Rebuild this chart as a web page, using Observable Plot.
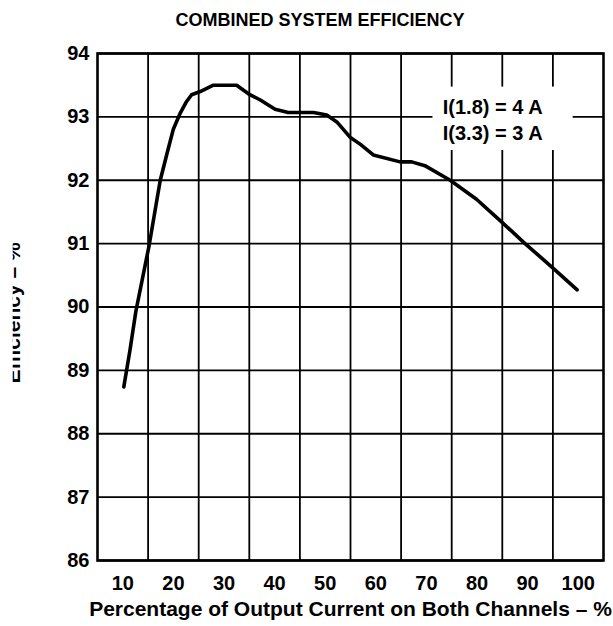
<!DOCTYPE html>
<html><head><meta charset="utf-8">
<script src="https://cdn.jsdelivr.net/npm/d3@7"></script>
<script src="https://cdn.jsdelivr.net/npm/@observablehq/plot@0.6"></script>
<style>
html,body{margin:0;padding:0;background:#fff;}
body{width:613px;height:626px;overflow:hidden;font-family:"Liberation Sans",Arial,Helvetica,sans-serif;}
#title{box-sizing:border-box;width:613px;height:40px;line-height:40px;text-align:center;padding-left:27px;font-weight:bold;font-size:18px;color:#000;}
</style></head><body>
<div id="title">COMBINED SYSTEM EFFICIENCY</div>
<div id="chart"></div>
<script>
// Percentage of output current on both channels (%)
const pct = [10.2, 11.4, 12.6, 15.2, 17.4, 18.7, 20.0, 21.3, 22.5, 23.6, 25.3, 27.9, 32.5, 35.1, 37.1, 40.1, 42.7, 47.7, 50.3, 52.3, 54.9, 56.9, 59.5, 64.8, 67.1, 69.7, 74.7, 79.9, 84.9, 89.5, 94.8, 99.8];
// Efficiency (%)
const eff = [88.74, 89.31, 89.94, 90.97, 92.00, 92.41, 92.81, 93.05, 93.23, 93.35, 93.40, 93.50, 93.50, 93.35, 93.27, 93.12, 93.07, 93.07, 93.03, 92.92, 92.68, 92.57, 92.40, 92.29, 92.29, 92.23, 92.00, 91.70, 91.34, 91.00, 90.63, 90.27];

const yTicks = [86, 87, 88, 89, 90, 91, 92, 93, 94];
const xTicks = [10, 20, 30, 40, 50, 60, 70, 80, 90, 100];
const xGrid = [15, 25, 35, 45, 55, 65, 75, 85, 95];
const noteLines = ["I(1.8) = 4 A", "I(3.3) = 3 A"];
const xTitle = "Percentage of Output Current on Both Channels – %";
const yTitle = "Efficiency – %";

const data = pct.map((p, i) => ({pct: p, eff: eff[i]}));
const FONT = "Liberation Sans, Arial, Helvetica, sans-serif";

const chart = Plot.plot({
  width: 613,
  height: 586,
  marginTop: 13,
  marginBottom: 66,
  marginLeft: 97,
  marginRight: 10,
  style: {fontFamily: FONT, background: "#fff", color: "#000"},
  x: {domain: [5, 105]},
  y: {domain: [86, 94]},
  marks: [
    Plot.ruleY(yTicks, {stroke: "#000", strokeWidth: 1.8}),
    Plot.ruleX(xGrid, {stroke: "#000", strokeWidth: 1.8}),
    Plot.rect([0], {x1: 71.3, x2: 99, y1: 92.47, y2: 93.47, fill: "#fff"}),
    Plot.text([noteLines.join("\n")], {x: 83.1, y: 92.97, fontSize: 20, fontWeight: "bold", lineHeight: 1.3, fill: "#000"}),
    Plot.line(data, {x: "pct", y: "eff", stroke: "#000", strokeWidth: 3.6, strokeLinejoin: "round", strokeLinecap: "round"}),
    Plot.frame({stroke: "#000", strokeWidth: 2.6}),
    Plot.axisY(yTicks, {tickSize: 0, tickPadding: 8, tickFormat: "d", fontSize: 20, fontWeight: "bold", label: null}),
    Plot.axisX(xTicks, {tickSize: 0, tickPadding: 15, tickFormat: "d", fontSize: 20, fontWeight: "bold", label: null}),
    Plot.text([xTitle], {frameAnchor: "bottom", dy: 55, lineAnchor: "bottom", fontSize: 21, fontWeight: "bold", fill: "#000"}),
    Plot.text([yTitle], {frameAnchor: "left", dx: -78, dy: 6, rotate: -90, textAnchor: "middle", lineAnchor: "bottom", fontSize: 21, fontWeight: "bold", fill: "#000"})
  ]
});
document.getElementById("chart").appendChild(chart);

// The reference shows the vertical axis title cut off at its left side.
const svg = d3.select(chart);
const ns = "http://www.w3.org/2000/svg";
const yText = svg.selectAll("text").filter(function() { return this.textContent === yTitle; }).node();
if (yText) {
  const g = yText.parentNode;
  const defs = svg.insert("defs", ":first-child");
  defs.append("clipPath").attr("id", "ytitle-clip")
    .append("rect").attr("x", 12.7).attr("y", 0).attr("width", 600).attr("height", 586);
  const wrap = document.createElementNS(ns, "g");
  wrap.setAttribute("clip-path", "url(#ytitle-clip)");
  g.parentNode.insertBefore(wrap, g);
  wrap.appendChild(g);
}
</script>
</body></html>
